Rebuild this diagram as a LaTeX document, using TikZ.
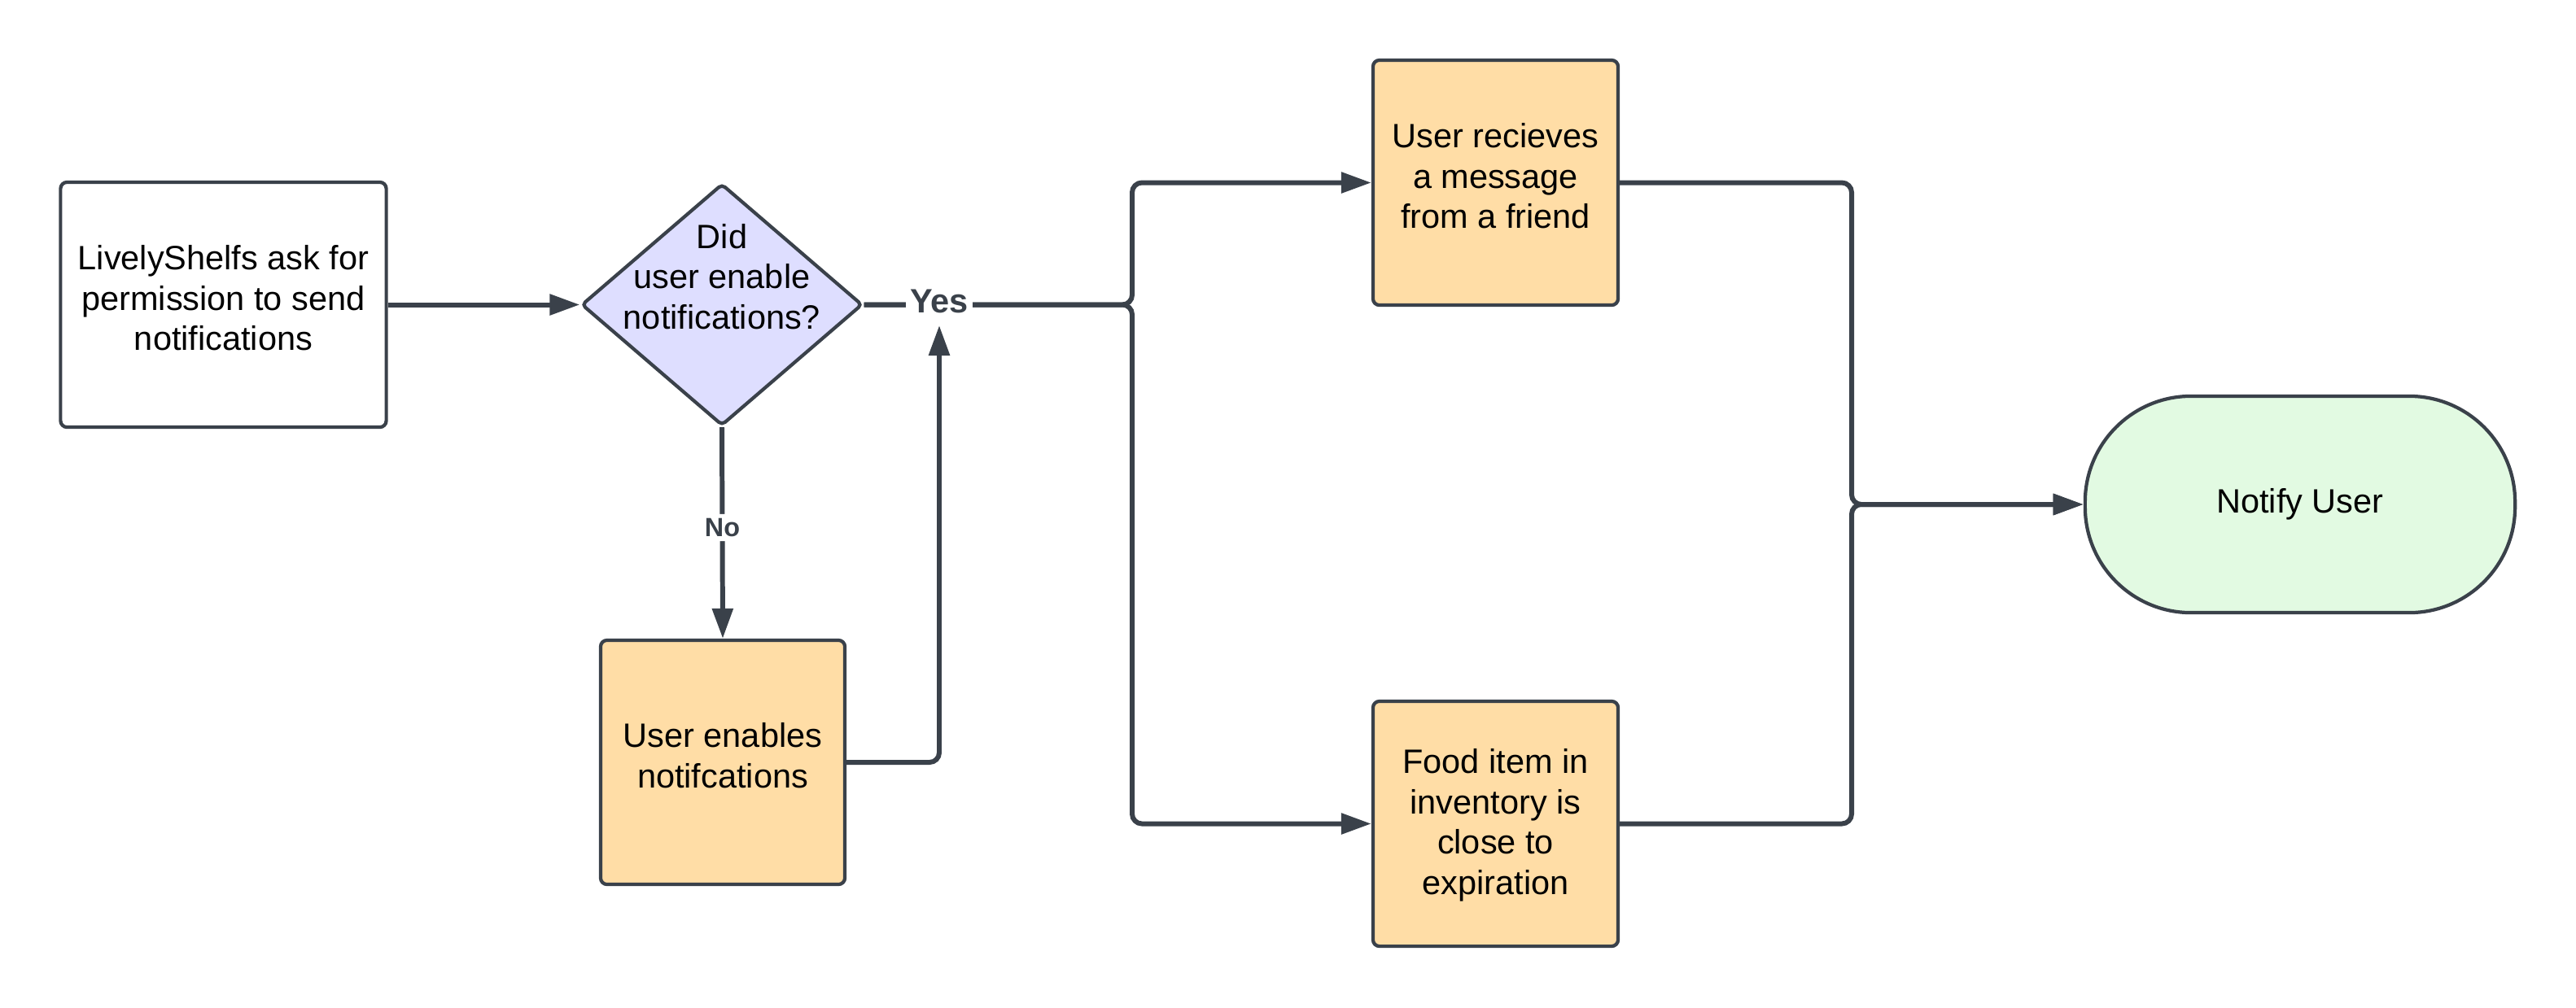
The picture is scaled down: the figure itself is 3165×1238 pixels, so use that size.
\documentclass[tikz,border=0pt]{standalone}
\usepackage{fontspec}
\setmainfont{Liberation Sans}
\usetikzlibrary{shapes.geometric,arrows.meta}
\definecolor{ln}{HTML}{3A414A}
\definecolor{orangefill}{HTML}{FFDDA6}
\definecolor{lavender}{HTML}{DEDEFF}
\definecolor{mint}{HTML}{E2FAE2}
\begin{document}
\begin{tikzpicture}[x=0.01cm,y=-0.01cm,
  txt/.style={align=center, font=\fontsize{11.8}{14.1}\selectfont, text=black},
  box/.style={txt, draw=ln, line width=1.2pt, rounded corners=0.08cm, minimum width=3cm, minimum height=3cm, inner sep=0pt, text depth=0.17cm},
  conn/.style={draw=ln, line width=1.7pt, rounded corners=0.12cm},
  arr/.style={conn, -{Triangle[width=0.25cm,length=0.37cm]}},
  lbl/.style={fill=white, text=ln, inner sep=1.5pt}]
\useasboundingbox (0,0) rectangle (3165,1238);
% nodes
\node[box, fill=white, minimum width=4cm, minimum height=3.01cm] (A) at (274.5,374.5) {LivelyShelfs ask for\\permission to send\\notifications};
\node[diamond, draw=ln, fill=lavender, line width=1.2pt, minimum width=3.45cm, minimum height=2.97cm, inner sep=0pt, rounded corners=0.05cm] (D) at (887,374.5) {};
\node[txt] (Dt) at (887,340) {Did\\user enable\\notifications?};
\node[box, fill=orangefill] (E) at (888,937) {User enables\\notifcations};
\node[box, fill=orangefill, minimum width=3.01cm, minimum height=3.01cm] (F) at (1837.5,224.5) {User recieves\\a message\\from a friend};
\node[box, fill=orangefill, minimum width=3.01cm, minimum height=3.01cm, text depth=0.05cm] (G) at (1837.5,1012.5) {Food item in\\inventory is\\close to\\expiration};
\node[box, fill=mint, minimum width=5.28cm, minimum height=2.66cm, rounded corners=1.3cm, text depth=0.1cm] (H) at (2826,620) {Notify User};
\coordinate (fork) at (1391,374.5);
\coordinate (merge) at (2275,620);
\coordinate (yesin) at (1154,400);
% connectors
\draw[arr] (A.east) -- (D.west);
\draw[arr] (D.east) -- (fork) |- (F.west);
\draw[arr] (D.east) -- (fork) |- (G.west);
\draw[arr] (D.south) -- (E.north) node[lbl, pos=0.475, font=\bfseries\fontsize{9.2}{11}\selectfont] (no) {No};
\draw[arr] (E.east) -| (yesin);
\draw[arr] (F.east) -| (merge) -- (H.west);
\draw[arr] (G.east) -| (merge) -- (H.west);
\node[lbl, font=\bfseries\fontsize{11.8}{14}\selectfont] (yes) at (1154,370) {Yes};
\end{tikzpicture}
\end{document}
